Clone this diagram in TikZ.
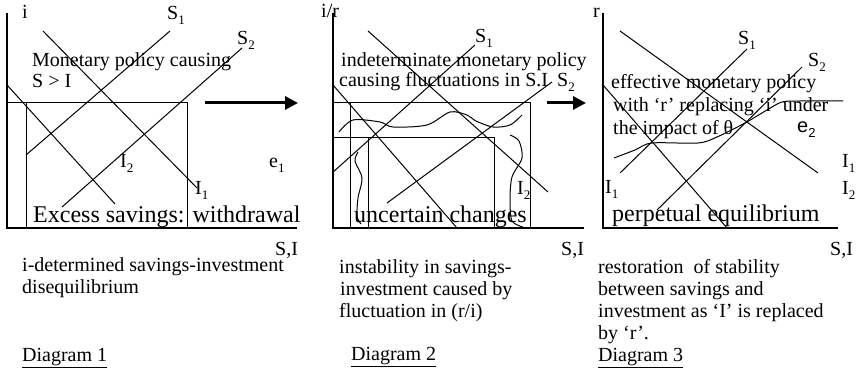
\documentclass[tikz,border=0pt]{standalone}
\usepackage{fontspec}
\setmainfont{Liberation Serif}
\newfontfamily\arialfont{Liberation Sans}
\usetikzlibrary{arrows.meta}
\newcommand{\lowidx}[1]{\raisebox{-0.25em}{\fontsize{13}{13}\selectfont #1}}
\tikzset{
  txt/.style={font=\fontsize{20}{22}\selectfont, inner sep=0pt, anchor=base west},
  bigtxt/.style={font=\fontsize{24}{26}\selectfont, inner sep=0pt, anchor=base west},
  curve/.style={line width=1pt},
  axis/.style={line width=1.1pt},
  shiftarrow/.style={-{Triangle[length=13pt,width=13pt]}, line width=3pt}
}
\begin{document}
\begin{tikzpicture}[x=1pt, y=-1pt]
\useasboundingbox (0,0) rectangle (859,371);

% --- Panel 1: i-determined disequilibrium ---
\draw[axis] (7,13) -- (7,228) -- (297,228);
\node[txt] (ylab1) at (22,19) {i};
\node[txt] (xlab1) at (275,256) {S,I};
\draw[curve] (7,103) -- (187,103) -- (187,228);
\draw[curve] (26,103) -- (26,228);
\draw[curve] (26,155) -- (170,31);
\draw[curve] (62,207) -- (242,48);
\draw[curve] (43,31) -- (197,188);
\draw[curve] (7,85) -- (115,204);
\node[txt] (s1a) at (167,20) {S\lowidx{1}};
\node[txt] (s2a) at (237,45) {S\lowidx{2}};
\node[txt] (i2a) at (120,168) {I\lowidx{2}};
\node[txt] (i1a) at (195,195) {I\lowidx{1}};
\node[txt] (e1) at (269,168) {e\lowidx{1}};
\node[txt] (cause1) at (32,67) {Monetary policy causing};
\node[txt] (cause1b) at (32,88) {S > I};
\node[bigtxt] (excess) at (33,223) {Excess savings: withdrawal};
\coordinate (arr1a) at (205,103);
\coordinate (arr1b) at (298,103);
\draw[shiftarrow] (arr1a) -- (arr1b);

% --- Panel 2: fluctuations ---
\draw[axis] (333,13) -- (333,228) -- (584,228);
\node[txt] (ylab2) at (321,18) {i/r};
\node[txt] (xlab2) at (561,256) {S,I};
\draw[curve] (333,103) -- (530,103) -- (530,228);
\draw[curve] (333,138) -- (494,138) -- (494,228);
\draw[curve] (350,103) -- (350,228);
\draw[curve] (368,138) -- (368,228);
\draw[curve] (332,173) -- (475,45);
\draw[curve] (387,203) -- (552,82);
\draw[curve] (368,31) -- (548,192);
\draw[curve] (333,85) -- (457,228);
\draw[curve] plot[smooth] coordinates {(339,132) (353,120) (380,122) (393,127)
  (427,125) (450,112) (467,115) (476,121) (493,127) (510,125) (522,115)};
\draw[curve] plot[smooth] coordinates {(358,152) (355,161) (362,178) (358,198)
  (357,216) (361,224)};
\draw[curve] plot[smooth] coordinates {(510,135) (519,141) (522,158) (512,177)
  (510,200) (512,221) (523,227)};
\node[txt] (s1b) at (475,43) {S\lowidx{1}};
\node[txt] (s2b) at (557,87) {S\lowidx{2}};
\node[txt] (i2b) at (517,195) {I\lowidx{2}};
\node[txt] (cause2) at (341,67) {indeterminate monetary policy};
\node[txt] (cause2b) at (339,87) {causing fluctuations in S.I};
\node[bigtxt] (uncert) at (354,223) {uncertain changes};
\coordinate (arr2a) at (547,103);
\coordinate (arr2b) at (586,103);
\draw[shiftarrow] (arr2a) -- (arr2b);

% --- Panel 3: r replacing i ---
\draw[axis] (603,13) -- (603,228) -- (838,228);
\node[txt] (ylab3) at (593,18) {r};
\node[txt] (xlab3) at (830,256) {S,I};
\draw[curve] (620,173) -- (747,49);
\draw[curve] (657,210) -- (802,67);
\draw[curve] (620,31) -- (818,173);
\draw[curve] (603,85) -- (727,228);
\draw[curve] plot[smooth] coordinates {(614,158) (635,150) (652,143) (698,143)
  (717,137) (745,123) (767,110) (782,102) (800,101) (843,101)};
\node[txt] (s1c) at (738,45) {S\lowidx{1}};
\node[txt] (s2c) at (808,67) {S\lowidx{2}};
\node[txt] (i1c) at (842,168) {I\lowidx{1}};
\node[txt] (i2c) at (842,195) {I\lowidx{2}};
\node[txt] (i1d) at (605,194) {I\lowidx{1}};
\node[txt, font=\arialfont\fontsize{20}{22}\selectfont] (e2) at (797,133) {e\lowidx{2}};
\node[txt] (cause3) at (611,89) {effective monetary policy};
\node[txt] (cause3b) at (613,112) {with ‘r’ replacing ‘i’ under};
\node[txt] (cause3c) at (613,135) {the impact of θ};
\node[bigtxt] (perpet) at (612,222) {perpetual equilibrium};

% captions
\node[txt] (cap1) at (22,272) {i-determined savings-investment};
\node[txt] (cap1b) at (22,294) {disequilibrium};
\node[txt] (dia1) at (22,361) {\underline{Diagram 1}};
\node[txt] (cap2) at (339,273) {instability in savings-};
\node[txt] (cap2b) at (340,295) {investment caused by};
\node[txt] (cap2c) at (339,317) {fluctuation in (r/i)};
\node[txt] (dia2) at (351,360) {\underline{Diagram 2}};
\node[txt] (cap3) at (598,273) {restoration\ \ of stability};
\node[txt] (cap3b) at (598,295) {between savings and};
\node[txt] (cap3c) at (598,317) {investment as ‘I’ is replaced};
\node[txt] (cap3d) at (598,339) {by ‘r’.};
\node[txt] (dia3) at (598,361) {\underline{Diagram 3}};

\end{tikzpicture}
\end{document}
